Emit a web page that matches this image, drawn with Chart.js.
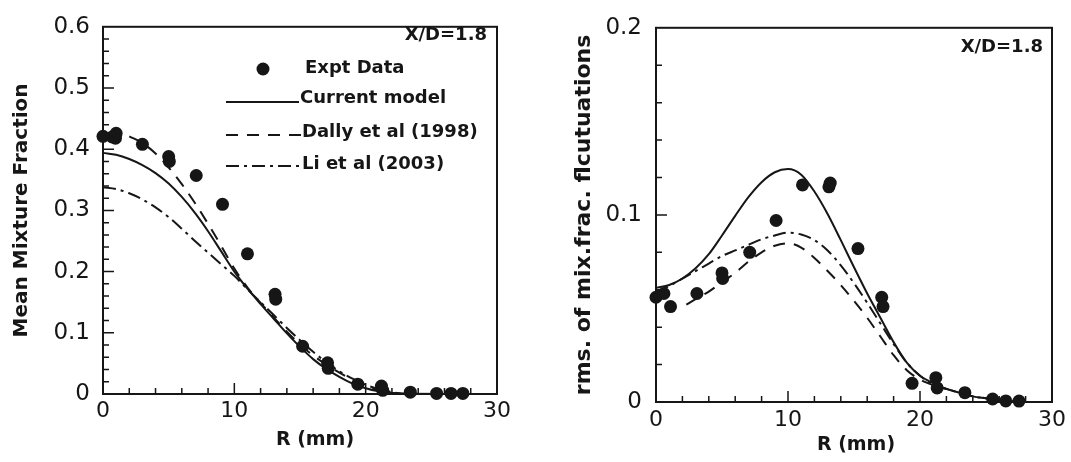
<!DOCTYPE html>
<html>
<head>
<meta charset="utf-8">
<title>Mixture fraction profiles at X/D=1.8</title>
<script src="https://cdn.jsdelivr.net/npm/chart.js"></script>
<style>
  body { margin: 0; background: #fff; }
  .panel { position: absolute; top: 0; }
</style>
</head>
<body>
<div class="panel" style="left:0"><canvas id="meanChart" width="540" height="462"></canvas></div>
<div class="panel" style="left:560px"><canvas id="rmsChart" width="511" height="462"></canvas></div>
<script>
// ---- mean mixture fraction (left panel) ----
const meanExptR = [0, 0.7, 0.95, 1.0, 3.0, 5.0, 5.05, 7.1, 9.1, 11.0, 13.1, 13.15, 15.2, 17.1, 17.15, 19.4, 21.2, 21.3, 23.4, 25.4, 26.5, 27.4];
const meanExpt  = [0.421, 0.42, 0.418, 0.426, 0.408, 0.388, 0.38, 0.357, 0.31, 0.229, 0.163, 0.155, 0.078, 0.051, 0.042, 0.016, 0.013, 0.006, 0.003, 0.001, 0.001, 0.001];

const meanModelR  = [0, 1, 2, 3, 4, 5, 6, 7, 8, 9, 10, 11, 12, 13, 14, 15, 16, 17, 18, 19, 20, 21, 22, 23, 27.5];
const meanCurrent = [0.394, 0.391, 0.384, 0.374, 0.361, 0.344, 0.322, 0.296, 0.266, 0.233, 0.200, 0.172, 0.147, 0.123, 0.099, 0.077, 0.057, 0.041, 0.028, 0.017, 0.0095, 0.0045, 0.0015, 0.0003, 0];
const meanLi      = [0.338, 0.335, 0.328, 0.318, 0.305, 0.289, 0.270, 0.250, 0.231, 0.212, 0.193, 0.171, 0.150, 0.129, 0.108, 0.088, 0.069, 0.052, 0.037, 0.025, 0.015, 0.008, 0.003, 0.0005, 0];

const meanDallyR = [2, 3, 4, 5, 6, 7, 8, 9, 10, 11, 12, 13, 14, 15, 16, 17, 18, 19, 20, 21, 22, 23, 27.5];
const meanDally  = [0.421, 0.410, 0.393, 0.370, 0.343, 0.312, 0.278, 0.242, 0.205, 0.174, 0.149, 0.125, 0.102, 0.081, 0.063, 0.048, 0.035, 0.023, 0.013, 0.006, 0.002, 0, 0];

// ---- rms of mixture fraction fluctuations (right panel) ----
const rmsExptR = [0, 0.6, 1.1, 3.1, 5.0, 5.05, 7.1, 9.1, 11.1, 13.1, 13.2, 15.3, 17.1, 17.2, 19.4, 21.2, 21.3, 23.4, 25.5, 26.5, 27.5];
const rmsExpt  = [0.056, 0.058, 0.051, 0.058, 0.069, 0.066, 0.080, 0.097, 0.116, 0.115, 0.117, 0.082, 0.056, 0.051, 0.010, 0.013, 0.0075, 0.005, 0.0016, 0.0006, 0.0005];

const rmsModelR  = [0, 1, 2, 3, 4, 5, 6, 7, 8, 9, 10, 11, 12, 13, 14, 15, 16, 17, 18, 19, 20, 21, 22, 23, 24, 25, 26, 27.5];
const rmsCurrent = [0.061, 0.0625, 0.066, 0.0715, 0.0790, 0.0890, 0.0995, 0.1095, 0.1175, 0.1228, 0.1245, 0.1215, 0.1125, 0.1005, 0.0865, 0.072, 0.058, 0.045, 0.032, 0.021, 0.014, 0.010, 0.007, 0.005, 0.003, 0.002, 0.001, 0];
const rmsLi      = [0.059, 0.062, 0.066, 0.070, 0.074, 0.078, 0.081, 0.084, 0.087, 0.089, 0.0905, 0.0895, 0.0865, 0.081, 0.073, 0.0635, 0.053, 0.042, 0.031, 0.021, 0.014, 0.0095, 0.007, 0.005, 0.003, 0.002, 0.001, 0];

const rmsDallyR = [2.3, 3, 4, 5, 6, 7, 8, 9, 10, 11, 12, 13, 14, 15, 16, 17, 18, 19, 20, 21, 22, 23, 24, 25, 26, 27.5];
const rmsDally  = [0.052, 0.055, 0.059, 0.064, 0.069, 0.075, 0.080, 0.0835, 0.0848, 0.0825, 0.077, 0.070, 0.0625, 0.054, 0.045, 0.035, 0.025, 0.017, 0.012, 0.009, 0.007, 0.005, 0.003, 0.002, 0.001, 0];

const FONT = "'DejaVu Sans', sans-serif";
const INK = '#161616';
const DASHED = [12, 9];
const DASHDOT = [13, 5, 3, 5];

function pts(xs, ys) {
  return xs.map((x, i) => ({ x: x, y: ys[i] }));
}

function curve(label, xs, ys, dash) {
  return {
    label: label,
    data: pts(xs, ys),
    showLine: true,
    pointRadius: 0,
    borderColor: INK,
    borderWidth: 2,
    borderDash: dash,
    cubicInterpolationMode: 'monotone',
    clip: false
  };
}

function expt(xs, ys) {
  return {
    label: 'Expt Data',
    data: pts(xs, ys),
    showLine: false,
    pointRadius: 6.5,
    pointBackgroundColor: INK,
    pointBorderWidth: 0,
    clip: false
  };
}

// box around the plot, inward ticks, legend and free text
const frame = {
  id: 'frame',
  beforeDatasetsDraw(chart, args, o) {
    const ctx = chart.ctx;
    const a = chart.chartArea;
    const xs = chart.scales.x, ys = chart.scales.y;
    ctx.save();
    ctx.strokeStyle = INK;
    ctx.lineWidth = 2;
    ctx.strokeRect(a.left, a.top, a.right - a.left, a.bottom - a.top);
    ctx.lineWidth = 1.5;
    ctx.beginPath();
    const ny = Math.round((ys.max - ys.min) / o.yMinor);
    for (let i = 1; i < ny; i++) {
      const py = ys.getPixelForValue(ys.min + i * o.yMinor);
      ctx.moveTo(a.left, py);
      ctx.lineTo(a.left + (i % o.yEvery === 0 ? 11 : 6), py);
    }
    const nx = Math.round((xs.max - xs.min) / o.xMinor);
    for (let i = 1; i < nx; i++) {
      const px = xs.getPixelForValue(xs.min + i * o.xMinor);
      ctx.moveTo(px, a.bottom);
      ctx.lineTo(px, a.bottom - (i % o.xEvery === 0 ? 11 : 6));
    }
    ctx.stroke();
    ctx.restore();
  },
  afterDraw(chart, args, o) {
    const ctx = chart.ctx;
    ctx.save();
    ctx.fillStyle = INK;
    ctx.textBaseline = 'middle';
    (o.notes || []).forEach(n => {
      ctx.font = n.font;
      ctx.textAlign = n.align;
      ctx.fillText(n.text, n.x, n.y);
    });
    if (o.legend) {
      const L = o.legend;
      ctx.font = 'bold 18px ' + FONT;
      ctx.textAlign = 'left';
      chart.data.datasets.forEach((ds, i) => {
        const row = L.rows[i];
        if (ds.showLine) {
          ctx.save();
          ctx.strokeStyle = INK;
          ctx.lineWidth = 2;
          ctx.setLineDash(ds.borderDash || []);
          ctx.beginPath();
          ctx.moveTo(L.lineFrom, row.lineY);
          ctx.lineTo(row.textX - 1, row.lineY);
          ctx.stroke();
          ctx.restore();
        } else {
          ctx.beginPath();
          ctx.arc(L.markX, row.lineY, 6.5, 0, Math.PI * 2);
          ctx.fill();
        }
        ctx.fillText(ds.label, row.textX, row.textY);
      });
    }
    ctx.restore();
  }
};

function panel(id, cfg) {
  return new Chart(document.getElementById(id), {
    type: 'scatter',
    data: { datasets: cfg.datasets },
    options: {
      responsive: false,
      animation: false,
      layout: { padding: cfg.padding },
      plugins: {
        legend: { display: false },
        tooltip: { enabled: false },
        frame: cfg.frame
      },
      scales: {
        x: {
          type: 'linear',
          min: 0,
          max: 30,
          afterFit: s => { s.height = cfg.xHeight; },
          grid: { display: false, drawTicks: false },
          border: { display: false },
          ticks: { stepSize: 10, autoSkip: false, padding: cfg.xTickPad, color: INK, font: { family: FONT, size: 22 } }
        },
        y: {
          min: 0,
          max: cfg.yMax,
          afterFit: s => { s.width = cfg.yWidth; },
          grid: { display: false, drawTicks: false },
          border: { display: false },
          ticks: { stepSize: 0.1, autoSkip: false, padding: cfg.yTickPad, color: INK, font: { family: FONT, size: 23 } },
          title: {
            display: true,
            text: cfg.yTitle,
            color: INK,
            padding: { top: cfg.yTitlePad, bottom: 0 },
            font: { family: FONT, size: cfg.yTitleSize, weight: 'bold' }
          }
        }
      }
    },
    plugins: [frame]
  });
}

panel('meanChart', {
  datasets: [
    expt(meanExptR, meanExpt),
    curve('Current model', meanModelR, meanCurrent, []),
    curve('Dally et al (1998)', meanDallyR, meanDally, DASHED),
    curve('Li et al (2003)', meanModelR, meanLi, DASHDOT)
  ],
  padding: { top: 19, right: 43, bottom: 0, left: 0 },
  xHeight: 68,
  yWidth: 103,
  xTickPad: 4,
  yTickPad: 13,
  yMax: 0.6,
  yTitle: 'Mean Mixture Fraction',
  yTitleSize: 20,
  yTitlePad: 10,
  frame: {
    yMinor: 0.02, yEvery: 5, xMinor: 2, xEvery: 5,
    notes: [
      { text: 'X/D=1.8', x: 487, y: 35, align: 'right', font: 'bold 18px ' + FONT },
      { text: 'R (mm)', x: 315, y: 440, align: 'center', font: 'bold 19px ' + FONT }
    ],
    legend: {
      markX: 263,
      lineFrom: 226,
      rows: [
        { lineY: 69, textX: 305, textY: 68 },
        { lineY: 102, textX: 300, textY: 98 },
        { lineY: 135, textX: 302, textY: 132 },
        { lineY: 166, textX: 302, textY: 164 }
      ]
    }
  }
});

panel('rmsChart', {
  datasets: [
    expt(rmsExptR, rmsExpt),
    curve('Current model', rmsModelR, rmsCurrent, []),
    curve('Dally et al (1998)', rmsDallyR, rmsDally, DASHED),
    curve('Li et al (2003)', rmsModelR, rmsLi, DASHDOT)
  ],
  padding: { top: 27, right: 18, bottom: 0, left: 0 },
  xHeight: 60,
  yWidth: 96,
  xTickPad: 5,
  yTickPad: 14,
  yMax: 0.2,
  yTitle: 'rms. of mix.frac. flcutuations',
  yTitleSize: 22,
  yTitlePad: 11,
  frame: {
    yMinor: 0.02, yEvery: 5, xMinor: 2, xEvery: 5,
    notes: [
      { text: 'X/D=1.8', x: 483, y: 47, align: 'right', font: 'bold 18px ' + FONT },
      { text: 'R (mm)', x: 296, y: 445, align: 'center', font: 'bold 19px ' + FONT }
    ]
  }
});
</script>
</body>
</html>
